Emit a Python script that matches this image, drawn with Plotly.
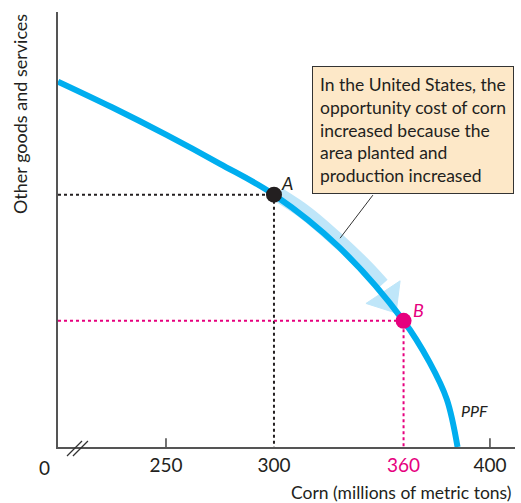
import plotly.graph_objects as go

# PPF curve (corn in millions of metric tons, other goods in arbitrary units)
corn = [200, 225, 250, 275, 300, 330, 360, 372, 380, 385]
other_goods = [84, 78.1, 71.8, 65.1, 58, 46, 29, 19.5, 11, 0]

# Points A and B
point_names = ["A", "B"]
point_corn = [300, 360]
point_other = [58, 29]
point_colors = ["#231f20", "#e6007e"]

# Light arrow along the curve from A toward B
arrow_corn = [302, 315, 330, 343, 350]
arrow_other = [58.0, 53.7, 47.3, 41.1, 37.3]
arrowhead_corn = [342.6, 358.4, 356.5, 342.6]
arrowhead_other = [33.0, 38.2, 30.8, 33.0]

# Axis ticks
tick_vals = [250, 300, 360, 400]
tick_text = ["250", "300", "<span style='color:#e6007e'>360</span>", "400"]
plain_ticks = [250, 400]

x_range = [200, 411.6]
y_range = [0, 100]

FONT = "Lato"
fig = go.Figure()

# dotted guides
for name, cx, cy, col in zip(point_names, point_corn, point_other, point_colors):
    fig.add_trace(go.Scatter(x=[x_range[0], cx, cx], y=[cy, cy, y_range[0]], mode="lines",
                             line=dict(color=col, width=2, dash="dot"), hoverinfo="skip"))

# light arrow band
fig.add_trace(go.Scatter(x=arrow_corn, y=arrow_other, mode="lines", line=dict(color="#bfe6f9", width=15, shape="spline"),
                         hoverinfo="skip"))
fig.add_trace(go.Scatter(x=arrowhead_corn, y=arrowhead_other, mode="lines", fill="toself", fillcolor="#bfe6f9",
                         line=dict(color="#bfe6f9", width=1), hoverinfo="skip"))

# PPF curve
fig.add_trace(go.Scatter(x=corn, y=other_goods, mode="lines", line=dict(color="#00aeef", width=6, shape="spline"),
                         hoverinfo="skip"))

# points
fig.add_trace(go.Scatter(x=point_corn, y=point_other, mode="markers",
                         marker=dict(color=point_colors, size=16, line=dict(width=0)), hoverinfo="skip"))

# tick marks and axis break
shapes = []
for t in plain_ticks:
    shapes.append(dict(type="line", xref="x", yref="y", x0=t, x1=t, y0=0, y1=2.0,
                       line=dict(color="#444", width=1.5)))
for dx in [0, 0.013]:
    shapes.append(dict(type="line", xref="paper", yref="paper", x0=0.0197 + dx, x1=0.0525 + dx, y0=-0.0207, y1=0.0138,
                       line=dict(color="#333", width=1.2)))
# leader line
shapes.append(dict(type="line", xref="x", yref="y", x0=345.8, x1=330.6, y0=57.9, y1=48.0,
                   line=dict(color="#333", width=1)))

annotations = [
    dict(x=point_corn[0], y=point_other[0], text="<i>A</i>", showarrow=False, xshift=13, yshift=12,
         font=dict(family=FONT, size=18, color="#231f20")),
    dict(x=point_corn[1], y=point_other[1], text="<i>B</i>", showarrow=False, xshift=15, yshift=11,
         font=dict(family=FONT, size=18, color="#e6007e")),
    dict(x=385.6, y=8.5, text="<i>PPF</i>", showarrow=False, xanchor="left",
         font=dict(family=FONT, size=16, color="#231f20")),
    dict(x=x_range[0], y=0, text="0", showarrow=False, xshift=-14, yshift=-20,
         font=dict(family=FONT, size=19, color="#231f20")),
    dict(x=1, xref="paper", xshift=-2, y=0, yref="paper", yshift=-45, xanchor="right", yanchor="middle",
         text="Corn (millions of metric tons)", showarrow=False,
         font=dict(family=FONT, size=17.5, color="#231f20")),
    dict(x=0, xref="paper", xshift=-38, xanchor="center", y=1, yref="paper", yanchor="top", textangle=-90,
         text="Other goods and services", showarrow=False,
         font=dict(family=FONT, size=18, color="#231f20")),
    dict(x=317.6, y=87.6, xanchor="left", yanchor="top", align="left", showarrow=False,
         text="In the United States, the<br>opportunity cost of corn<br>increased because the<br>area planted and<br>production increased",
         bgcolor="#fde8c8", bordercolor="#333", borderwidth=1, borderpad=7,
         font=dict(family=FONT, size=17.5, color="#231f20")),
]

fig.update_layout(
    width=521, height=503,
    margin=dict(l=58, r=6, t=12, b=56),
    paper_bgcolor="white", plot_bgcolor="white",
    showlegend=False,
    shapes=shapes, annotations=annotations,
    xaxis=dict(range=x_range, tickvals=tick_vals, ticktext=tick_text, ticks="", showgrid=False, zeroline=False,
               showline=True, linecolor="#555", linewidth=2, tickfont=dict(family=FONT, size=19, color="#231f20"),
               fixedrange=True),
    yaxis=dict(range=y_range, showticklabels=False, ticks="", showgrid=False, zeroline=False,
               showline=True, linecolor="#555", linewidth=2, fixedrange=True),
)

fig.write_html("out.html", config={"displayModeBar": False},
               post_script="document.body.style.margin='0';document.body.style.overflow='hidden';")
